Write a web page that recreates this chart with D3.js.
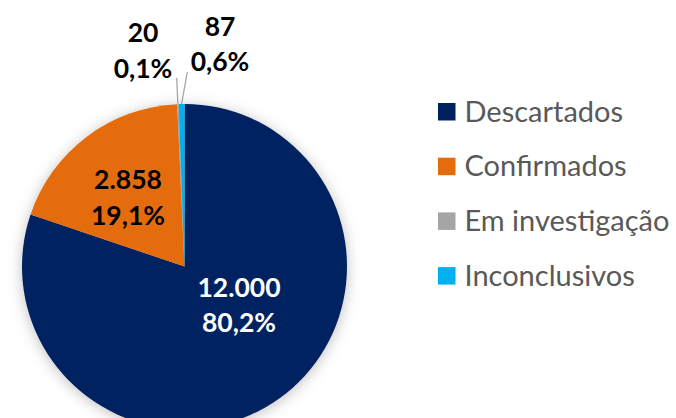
<!DOCTYPE html>
<html><head><meta charset="utf-8">
<script src="https://cdn.jsdelivr.net/npm/d3@7"></script>
<style>
html,body{margin:0;padding:0;background:#fff;}
svg{display:block;}
</style></head>
<body>
<svg id="chart" width="676" height="418"></svg>
<script>
// ---- data ----
const categories = ["Descartados", "Confirmados", "Em investigação", "Inconclusivos"];
const values = [12000, 2858, 20, 87];
const valueLabels = ["12.000", "2.858", "20", "87"];
const percentLabels = ["80,2%", "19,1%", "0,1%", "0,6%"];
const colors = ["#002060", "#E46C0A", "#A5A5A5", "#00B0F0"];

// ---- layout ----
const W = 676, H = 418;
const cx = 184.5, cy = 266.5, R = 162.5;
const FONT = "Lato, 'Open Sans', sans-serif";

const svg = d3.select("#chart");
const defs = svg.append("defs");
const f = defs.append("filter").attr("id","shadow").attr("x","-20%").attr("y","-20%").attr("width","140%").attr("height","140%");
f.append("feDropShadow").attr("dx",0).attr("dy",2).attr("stdDeviation",7)
  .attr("flood-color","#000").attr("flood-opacity",0.25);

const pie = d3.pie().sort(null).value(d => d)(values);
const arc = d3.arc().innerRadius(0).outerRadius(R);

const g = svg.append("g").attr("transform", `translate(${cx},${cy})`);
const slices = g.append("g").attr("filter","url(#shadow)");
slices.selectAll("path").data(pie).join("path")
  .attr("d", arc)
  .attr("fill", (d,i) => colors[i]);

// label layout (offsets from pie centre: x centre, baseline of first line)
const labelPos = [
  {dx: 54.5, dy: 30.3, fill: "#fff"},
  {dx: -56.5, dy: -77.2, fill: "#000"},
  {dx: -41.5, dy: -224.2, fill: "#000"},
  {dx: 35.5, dy: -230.8, fill: "#000"}
];
const lineGap = 35.3;

// leader lines for small slices
const leaderStart = [null, null, {dx: -7.8, dy: -188.5}, {dx: 2.8, dy: -194.5}];
pie.forEach((d,i) => {
  if (!leaderStart[i]) return;
  const a = (d.startAngle + d.endAngle)/2;
  const ex = Math.sin(a)*R, ey = -Math.cos(a)*R;
  g.append("line")
    .attr("x1", leaderStart[i].dx).attr("y1", leaderStart[i].dy)
    .attr("x2", ex).attr("y2", ey)
    .attr("stroke", "#A6A6A6").attr("stroke-width", 1.3);
});

const labels = g.append("g").attr("font-family", FONT).attr("font-weight", "bold")
  .attr("font-size", 26.5).attr("text-anchor", "middle");
pie.forEach((d,i) => {
  const p = labelPos[i];
  labels.append("text").attr("x", p.dx).attr("y", p.dy).attr("fill", p.fill).text(valueLabels[i]);
  labels.append("text").attr("x", p.dx).attr("y", p.dy + lineGap).attr("fill", p.fill).text(percentLabels[i]);
});

// legend
const legend = svg.append("g").attr("transform", "translate(438,103)");
const rowGap = 54.7;
categories.forEach((c,i) => {
  const row = legend.append("g").attr("transform", `translate(0,${i*rowGap})`);
  row.append("rect").attr("width", 17.5).attr("height", 17.5).attr("fill", colors[i]);
  row.append("text").attr("x", 26.5).attr("y", 18.7)
    .attr("font-family", FONT).attr("font-size", 29)
    .attr("fill", "#595959").text(c);
});
</script>
</body></html>
